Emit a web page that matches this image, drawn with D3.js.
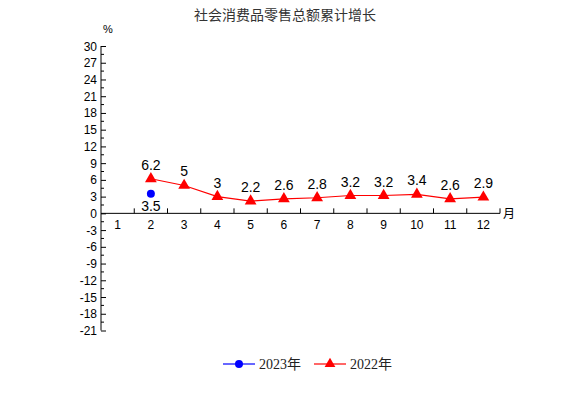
<!DOCTYPE html>
<html lang="zh">
<head>
<meta charset="UTF-8">
<title>社会消费品零售总额累计增长</title>
<script src="https://d3js.org/d3.v7.min.js"></script>
<style>
  body { margin: 0; background: #fff; }
  svg text { font-family: "Liberation Sans", Arial, sans-serif; }
</style>
</head>
<body>
<svg id="chart" width="570" height="397"></svg>
<script>
// data
const months = [1, 2, 3, 4, 5, 6, 7, 8, 9, 10, 11, 12];
const series2023 = [null, 3.5, null, null, null, null, null, null, null, null, null, null];
const series2022 = [null, 6.2, 5, 3, 2.2, 2.6, 2.8, 3.2, 3.2, 3.4, 2.6, 2.9];
const yTicks = [30, 27, 24, 21, 18, 15, 12, 9, 6, 3, 0, -3, -6, -9, -12, -15, -18, -21];

const svg = d3.select("#chart");

const x = d3.scaleBand().domain(months).range([101, 500]);
const y = d3.scaleLinear().domain([-21, 30]).range([330.5, 46]);

// title
svg.append("text")
    .attr("x", 285).attr("y", 20)
    .attr("text-anchor", "middle")
    .style("font-family", "'Noto Sans CJK SC', sans-serif")
    .style("font-size", "14px")
    .attr("fill", "#333")
    .text("社会消费品零售总额累计增长");

// y axis
const yAxis = d3.axisRight(y).tickValues(yTicks).tickSize(5).tickFormat("");
const gy = svg.append("g").attr("transform", "translate(101,0)").call(yAxis);
gy.select(".domain").attr("d", `M0,${y(30)}V${y(-21)}`).attr("stroke", "#000");
gy.selectAll(".tick line").attr("stroke", "#000");
// minor ticks
svg.append("g").selectAll("line")
    .data(d3.range(-19.5, 30, 3))
    .join("line")
    .attr("x1", 101).attr("x2", 104)
    .attr("y1", d => y(d)).attr("y2", d => y(d))
    .attr("stroke", "#000");
// y labels
svg.append("g").selectAll("text")
    .data(yTicks)
    .join("text")
    .attr("x", 97).attr("y", d => y(d) + 4.5)
    .attr("text-anchor", "end")
    .style("font-size", "12px")
    .text(d => d);

svg.append("text").attr("x", 103).attr("y", 33)
    .style("font-size", "11px").text("%");

// x axis on zero line
const x0 = x.range()[0], x1 = x.range()[1];
svg.append("line")
    .attr("x1", x0).attr("x2", x1)
    .attr("y1", y(0)).attr("y2", y(0))
    .attr("stroke", "#000");
svg.append("g").selectAll("line")
    .data(months.slice(1).concat(["end"]))
    .join("line")
    .attr("x1", d => d === "end" ? x1 : x(d))
    .attr("x2", d => d === "end" ? x1 : x(d))
    .attr("y1", y(0)).attr("y2", y(0) - 5)
    .attr("stroke", "#000");
svg.append("g").selectAll("text")
    .data(months)
    .join("text")
    .attr("x", d => x(d) + x.bandwidth() / 2)
    .attr("y", y(0) + 16)
    .attr("text-anchor", "middle")
    .style("font-size", "12px")
    .text(d => d);
svg.append("text").attr("x", x1 + 3).attr("y", y(0) + 5)
    .style("font-family", "'Noto Sans CJK SC', sans-serif")
    .style("font-size", "12px").text("月");

const cx = d => x(d.m) + x.bandwidth() / 2;

// 2022 series
const d22 = months.map((m, i) => ({ m, v: series2022[i] })).filter(d => d.v !== null);
svg.append("path")
    .datum(d22)
    .attr("fill", "none")
    .attr("stroke", "#ff0000")
    .attr("stroke-width", 1.2)
    .attr("d", d3.line().x(cx).y(d => y(d.v)));
svg.append("g").selectAll("path")
    .data(d22)
    .join("path")
    .attr("transform", d => `translate(${cx(d)},${y(d.v)})`)
    .attr("d", d3.symbol(d3.symbolTriangle, 60))
    .attr("fill", "#ff0000");
svg.append("g").selectAll("text")
    .data(d22)
    .join("text")
    .attr("x", cx)
    .attr("y", d => y(d.v) - 9)
    .attr("text-anchor", "middle")
    .style("font-size", "14px")
    .text(d => d.v);

// 2023 series
const d23 = months.map((m, i) => ({ m, v: series2023[i] })).filter(d => d.v !== null);
svg.append("g").selectAll("circle")
    .data(d23)
    .join("circle")
    .attr("cx", cx).attr("cy", d => y(d.v))
    .attr("r", 4)
    .attr("fill", "#0000ff");
svg.append("g").selectAll("text")
    .data(d23)
    .join("text")
    .attr("x", cx)
    .attr("y", d => y(d.v) + 17)
    .attr("text-anchor", "middle")
    .style("font-size", "14px")
    .text(d => d.v);

// legend
const legend = [
  { name: "2023年", color: "#0000ff", sym: d3.symbolCircle, x: 223 },
  { name: "2022年", color: "#ff0000", sym: d3.symbolTriangle, x: 314 }
];
const lg = svg.append("g").selectAll("g").data(legend).join("g")
    .attr("transform", d => `translate(${d.x},364)`);
lg.append("line").attr("x1", 0).attr("x2", 32)
    .attr("stroke", d => d.color).attr("stroke-width", 1.2);
lg.append("path").attr("transform", "translate(16,0)")
    .attr("d", d => d3.symbol(d.sym, 50)())
    .attr("fill", d => d.color);
lg.append("text").attr("x", 36).attr("y", 5)
    .style("font-family", "'Liberation Serif', 'Noto Sans CJK SC', serif")
    .style("font-size", "14px")
    .attr("fill", "#222")
    .text(d => d.name);
</script>
</body>
</html>
